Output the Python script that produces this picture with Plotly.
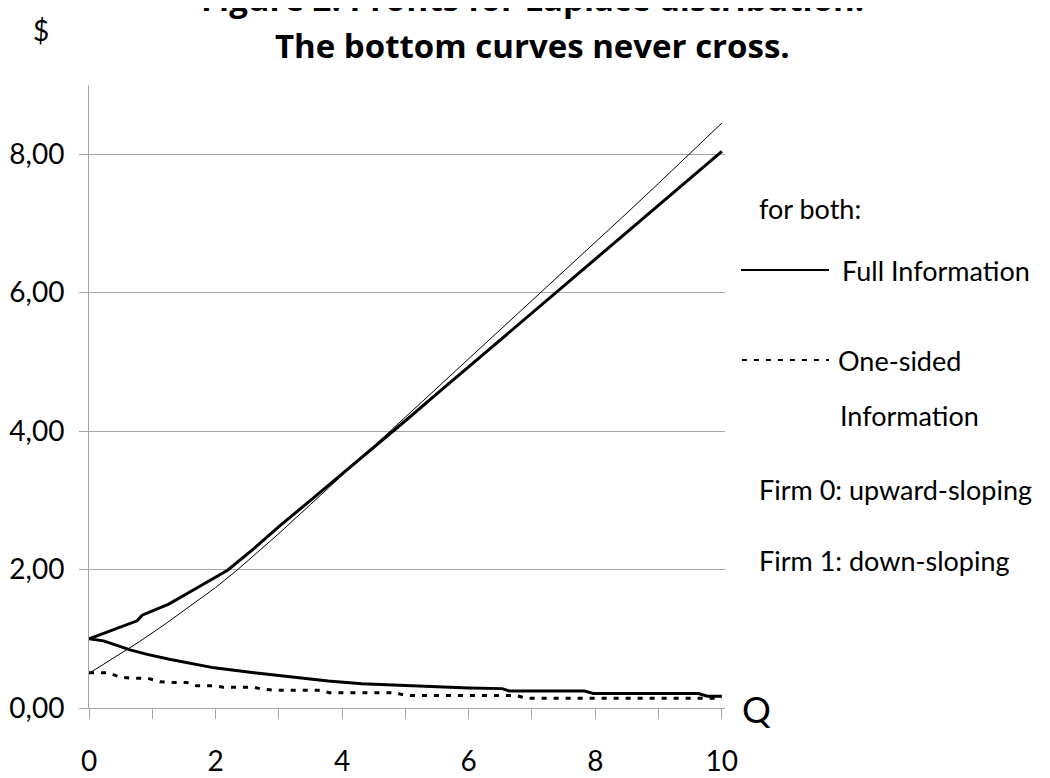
import plotly.graph_objects as go

# Firm 0 (upward-sloping), full information
q_full0 = [0, 0.76, 0.84, 1.26, 1.6, 2.19, 2.6, 3.0, 3.5, 4.0, 4.5, 5.0, 5.5,
           6.0, 6.5, 7.0, 7.5, 8.0, 8.5, 9.0, 9.5, 10.0]
full0 = [1.00, 1.26, 1.34, 1.50, 1.68, 1.99, 2.30, 2.62, 3.00, 3.38, 3.76, 4.15,
         4.54, 4.93, 5.31, 5.70, 6.09, 6.48, 6.87, 7.26, 7.65, 8.04]

# Firm 0 (upward-sloping), one-sided information
q_one0 = [0, 0.4, 0.8, 1.2, 1.6, 2.0, 2.35, 3.0, 3.5, 4.0, 4.5, 5.0, 5.5, 6.0,
          6.5, 7.0, 7.5, 8.0, 8.5, 9.0, 9.5, 10.0]
one0 = [0.50, 0.73, 0.96, 1.21, 1.47, 1.74, 2.00, 2.52, 2.94, 3.36, 3.78, 4.20,
        4.62, 5.04, 5.46, 5.88, 6.30, 6.72, 7.15, 7.58, 8.02, 8.45]

# Firm 1 (down-sloping), full information
q_full1 = [0, 0.23, 0.65, 0.92, 1.29, 1.66, 1.98, 2.61, 3.25, 3.78, 4.31, 4.8,
           5.4, 6.0, 6.53, 6.64, 7.83, 7.97, 9.63, 9.77, 10.0]
full1 = [1.00, 0.97, 0.84, 0.775, 0.70, 0.63, 0.58, 0.51, 0.44, 0.39, 0.35, 0.33,
         0.31, 0.29, 0.28, 0.245, 0.245, 0.21, 0.21, 0.17, 0.17]

# Firm 1 (down-sloping), one-sided information
q_one1 = [0, 0.3, 0.48, 0.66, 0.93, 1.12, 1.28, 1.54, 1.7, 2.0, 2.12, 2.6, 2.75,
          2.96, 3.65, 3.8, 4.85, 5.0, 6.75, 6.92, 10.0]
one1 = [0.51, 0.51, 0.45, 0.43, 0.43, 0.38, 0.37, 0.37, 0.32, 0.32, 0.30, 0.30,
        0.27, 0.256, 0.256, 0.22, 0.22, 0.18, 0.18, 0.14, 0.14]

x_ticks = [0, 1, 2, 3, 4, 5, 6, 7, 8, 9, 10]
x_labels = ["0", "", "2", "", "4", "", "6", "", "8", "", "10"]
y_ticks = [0, 2, 4, 6, 8]

FONT = "Lato"
GRID = "#a6a6a6"

fig = go.Figure()
fig.add_trace(go.Scatter(x=q_one0, y=one0, mode="lines",
                         line=dict(color="black", width=1)))
fig.add_trace(go.Scatter(x=q_full0, y=full0, mode="lines",
                         line=dict(color="black", width=3)))
fig.add_trace(go.Scatter(x=q_full1, y=full1, mode="lines",
                         line=dict(color="black", width=3)))
fig.add_trace(go.Scatter(x=q_one1, y=one1, mode="lines",
                         line=dict(color="black", width=3, dash="5px,7px")))


# page pixel -> paper coords for the plot box (89..725 x, 85..708 y)
def px(x):
    return (x - 89) / 636


def py(y):
    return (708 - y) / 623


notes = [
    ("Figure 2: Profits for Laplace distribution:", 532, -1, 33, "Open Sans", True),
    ("The bottom curves never cross.", 532, 46, 33, "Open Sans", True),
    ("$", 41, 30, 28, FONT, False),
    ("Q", 756, 709, 36, FONT, False),
    ("for both:", 757, 208, 27, FONT, False),
    ("Full Information", 840, 270, 27, FONT, False),
    ("One-sided", 836, 360, 27, FONT, False),
    ("Information", 838, 416, 27, FONT, False),
    ("Firm 0: upward-sloping", 757, 490, 27, FONT, False),
    ("Firm 1: down-sloping", 757, 560, 27, FONT, False),
]
for text, x, y, size, family, bold in notes:
    centred = bold or text in ("$", "Q")
    fig.add_annotation(
        text=f"<b>{text}</b>" if bold else text,
        x=px(x), y=py(y), xref="paper", yref="paper",
        xanchor="center" if centred else "left", yanchor="middle",
        showarrow=False, font=dict(family=family, size=size, color="black"),
    )

fig.add_shape(type="line", xref="paper", yref="paper",
              x0=px(741), x1=px(829), y0=py(270), y1=py(270),
              line=dict(color="black", width=2))
fig.add_shape(type="line", xref="paper", yref="paper",
              x0=px(742), x1=px(829), y0=py(360), y1=py(360),
              line=dict(color="black", width=2, dash="5px,7px"))

# the page body adds an 8px offset, so margins are shifted to compensate
fig.update_layout(
    width=1050, height=778,
    margin=dict(l=81, r=333, t=77, b=78, autoexpand=False),
    paper_bgcolor="white", plot_bgcolor="white",
    showlegend=False, separators=",.",
    font=dict(family=FONT, size=28, color="black"),
)
fig.update_xaxes(
    range=[0, 10.05], tickvals=x_ticks, ticktext=x_labels, automargin=False,
    showgrid=False, zeroline=False, showline=True, linecolor=GRID, linewidth=1,
    ticks="outside", ticklen=10, tickcolor=GRID, ticklabelstandoff=18,
)
fig.update_yaxes(
    range=[0, 9], tickvals=y_ticks, tickformat=".2f", automargin=False,
    showgrid=True, gridcolor=GRID, gridwidth=1, zeroline=False,
    showline=True, linecolor=GRID, linewidth=1,
    ticks="outside", ticklen=9, tickcolor=GRID, ticklabelstandoff=9,
)

fig.write_html("out.html")
